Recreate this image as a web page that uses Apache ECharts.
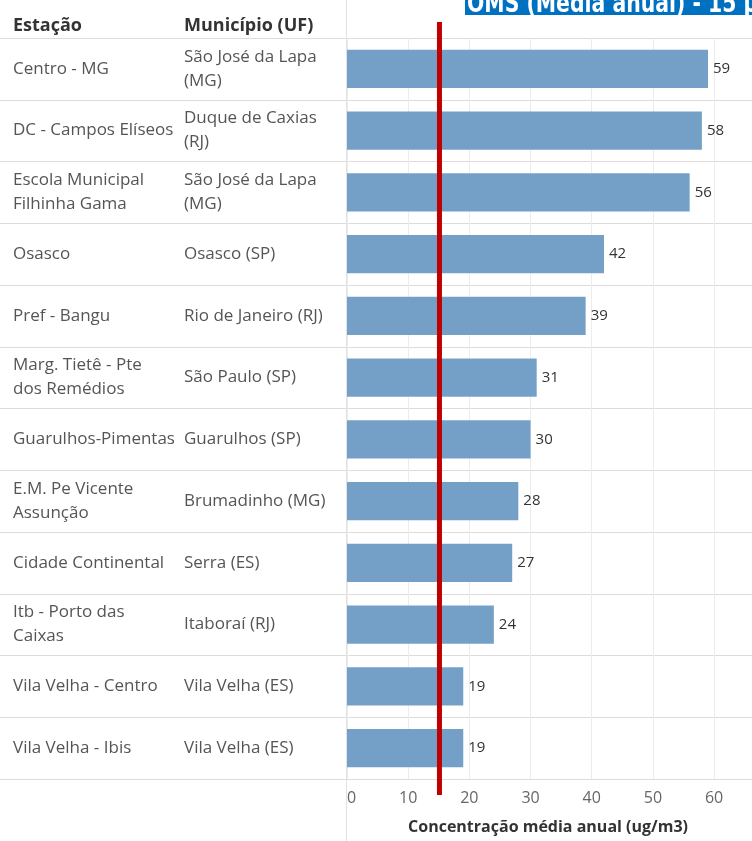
<!DOCTYPE html>
<html><head><meta charset="utf-8">
<script src="https://cdn.jsdelivr.net/npm/echarts@6/dist/echarts.min.js"></script>
<style>html,body{margin:0;padding:0;background:#fff}#c{width:752px;height:841px}</style>
</head><body><div id="c"></div>
<script>
const stations = ["Centro - MG","DC - Campos Elíseos","Escola Municipal\nFilhinha Gama","Osasco","Pref - Bangu","Marg. Tietê - Pte\ndos Remédios","Guarulhos-Pimentas","E.M. Pe Vicente\nAssunção","Cidade Continental","Itb - Porto das\nCaixas","Vila Velha - Centro","Vila Velha - Ibis"];
const municipios = ["São José da Lapa\n(MG)","Duque de Caxias\n(RJ)","São José da Lapa\n(MG)","Osasco (SP)","Rio de Janeiro (RJ)","São Paulo (SP)","Guarulhos (SP)","Brumadinho (MG)","Serra (ES)","Itaboraí (RJ)","Vila Velha (ES)","Vila Velha (ES)"];
const values = [59,58,56,42,39,31,30,28,27,24,19,19];
const whoLimit = 15;
const xTicks = [0,10,20,30,40,50,60];
const headers = ["Estação","Município (UF)"];
const bannerText = "OMS (Média anual) - 15 µg/m3";
const axisTitle = "Concentração média anual (ug/m3)";

const FONT = "Open Sans";
const XMAX = 65.7;
const chart = echarts.init(document.getElementById('c'));
chart.setOption({
  backgroundColor:'#fff',
  animation:false,
  textStyle:{fontFamily:FONT},
  title:[
    {text:headers[0],left:13,top:17,padding:0,textStyle:{fontFamily:FONT,fontWeight:'bold',fontSize:18,color:'#333'}},
    {text:headers[1],left:184,top:17,padding:0,textStyle:{fontFamily:FONT,fontWeight:'bold',fontSize:18,color:'#333'}}
  ],
  graphic:[
    {type:'line',shape:{x1:346.5,y1:0,x2:346.5,y2:841},style:{stroke:'#e2e2e2',lineWidth:1},z:1},
    {type:'rect',shape:{x:465,y:0,width:287,height:15},style:{fill:'#0070c0'},z:10},
    {type:'text',x:467,y:18,scaleX:0.84,style:{text:bannerText,fill:'#fff',font:'bold 27px "Liberation Sans Narrow", "DejaVu Sans Condensed", sans-serif',verticalAlign:'bottom',align:'left'},z:11}
  ],
  grid:[
    {left:0,right:0,top:38,bottom:62},
    {left:347,right:0,top:38,bottom:62},
    {left:347,right:0,top:22,bottom:46}
  ],
  xAxis:[
    {gridIndex:0,type:'value',min:0,max:1,show:false},
    {gridIndex:1,type:'value',min:0,max:XMAX,interval:10,
     axisLine:{show:false},axisTick:{show:false},
     splitLine:{show:true,showMaxLine:false,lineStyle:{color:'#ececec'}},
     axisLabel:{color:'#666',fontSize:16,margin:11,alignMinLabel:'left',
       formatter:v=>xTicks.indexOf(v)>=0?String(v):''},
     name:axisTitle,nameLocation:'middle',nameGap:40,
     nameTextStyle:{fontFamily:FONT,fontWeight:'bold',fontSize:16,color:'#333'}},
    {gridIndex:2,type:'value',min:0,max:XMAX,show:false}
  ],
  yAxis:[
    {gridIndex:0,type:'category',position:'left',offset:0,inverse:true,data:stations,
     axisLine:{show:false},axisTick:{show:false},
     splitLine:{show:true,lineStyle:{color:'#dcdcdc'}},
     axisLabel:{inside:true,margin:13,interval:0,color:'#555',fontSize:17,lineHeight:24,align:'left'}},
    {gridIndex:0,type:'category',position:'left',offset:0,inverse:true,data:municipios,
     axisLine:{show:false},axisTick:{show:false},splitLine:{show:false},
     axisLabel:{inside:true,margin:184,interval:0,color:'#555',fontSize:17,lineHeight:24,align:'left'}},
    {gridIndex:1,type:'category',inverse:true,data:stations,show:false},
    {gridIndex:2,type:'value',min:0,max:1,show:false}
  ],
  series:[
    {type:'bar',xAxisIndex:1,yAxisIndex:2,data:values,barCategoryGap:'38%',
     itemStyle:{color:'#74a0c8'},
     label:{show:true,position:'right',distance:5,color:'#333',fontSize:15,fontFamily:FONT}},
    {type:'line',xAxisIndex:2,yAxisIndex:3,data:[[whoLimit,0],[whoLimit,1]],symbol:'none',silent:true,
     lineStyle:{color:'#c00000',width:5},z:5}
  ]
});
</script></body></html>
